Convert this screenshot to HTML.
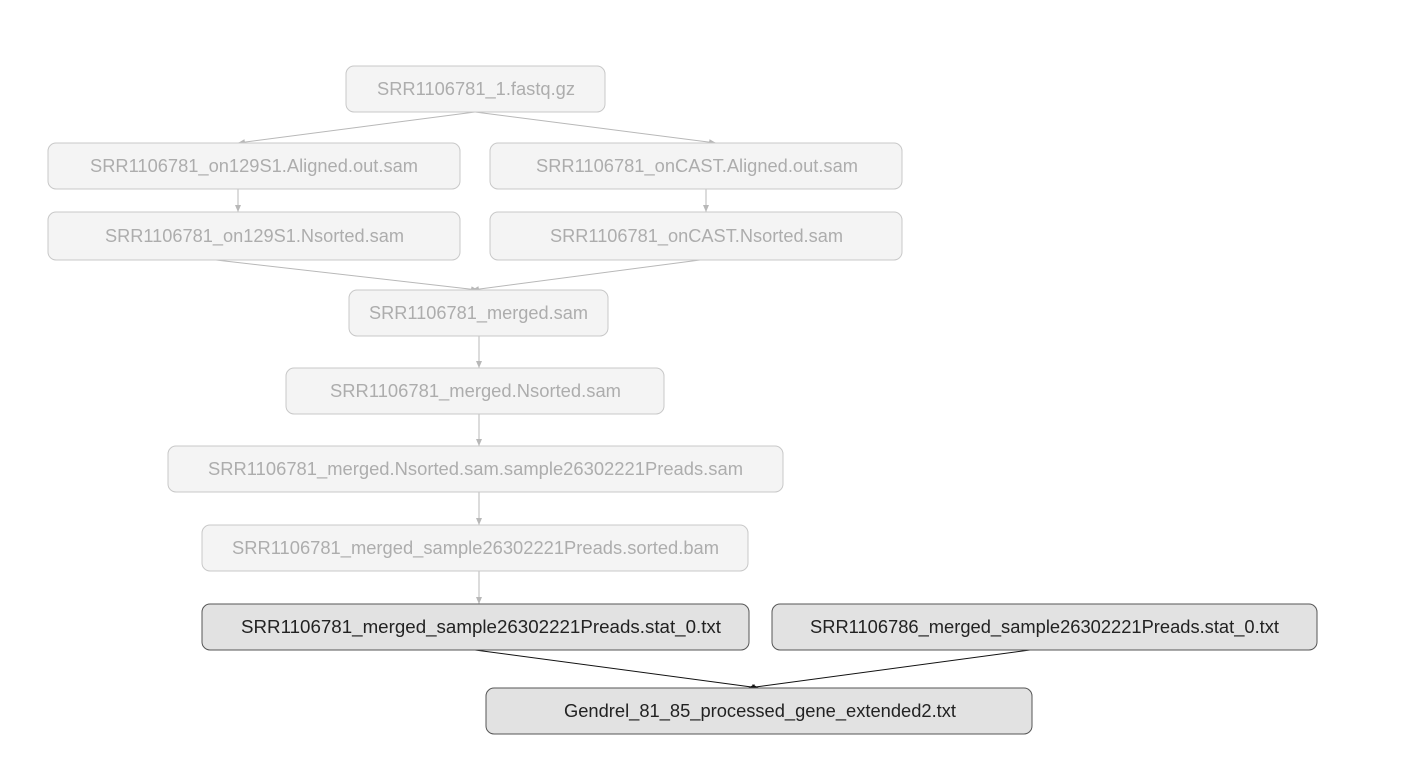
<!DOCTYPE html>
<html><head><meta charset="utf-8"><style>
html,body{margin:0;padding:0;background:#fff;}
svg{display:block;}
text{font-family:"Liberation Sans",Arial,sans-serif;font-size:18px;text-anchor:middle;dominant-baseline:central;}
.f rect{fill:#f4f4f4;stroke:#c8c8c8;stroke-width:1;}
.f text{fill:#adadad;}
.d rect{fill:#e2e2e2;stroke:#555;stroke-width:1;}
.d text{fill:#222;}
.lf{stroke:#b8b8b8;stroke-width:1;fill:none;}
.ld{stroke:#111;stroke-width:1;fill:none;}
</style></head><body>
<svg width="1424" height="768" viewBox="0 0 1424 768" xmlns="http://www.w3.org/2000/svg">
<defs>
<marker id="af" markerWidth="8" markerHeight="6" refX="7" refY="3" orient="auto" markerUnits="userSpaceOnUse"><path d="M0,0 L7,3 L0,6 z" fill="#b8b8b8"/></marker>
<marker id="ad" markerWidth="8" markerHeight="6" refX="7" refY="3" orient="auto" markerUnits="userSpaceOnUse"><path d="M0,0 L7,3 L0,6 z" fill="#111"/></marker>
</defs>
<line class="lf" x1="475" y1="112" x2="238" y2="143" marker-end="url(#af)"/>
<line class="lf" x1="475" y1="112" x2="716" y2="143" marker-end="url(#af)"/>
<line class="lf" x1="238" y1="189" x2="238" y2="212" marker-end="url(#af)"/>
<line class="lf" x1="706" y1="189" x2="706" y2="212" marker-end="url(#af)"/>
<line class="lf" x1="216" y1="260" x2="478" y2="290" marker-end="url(#af)"/>
<line class="lf" x1="700" y1="260" x2="472" y2="290" marker-end="url(#af)"/>
<line class="lf" x1="479" y1="336" x2="479" y2="368" marker-end="url(#af)"/>
<line class="lf" x1="479" y1="414" x2="479" y2="446" marker-end="url(#af)"/>
<line class="lf" x1="479" y1="492" x2="479" y2="525" marker-end="url(#af)"/>
<line class="lf" x1="479" y1="571" x2="479" y2="604" marker-end="url(#af)"/>
<line class="ld" x1="475" y1="650" x2="759" y2="688" marker-end="url(#ad)"/>
<line class="ld" x1="1030" y1="650" x2="748" y2="688" marker-end="url(#ad)"/>
<g class="f">
<rect x="346" y="66" width="259" height="46" rx="8"/><text x="476" y="89" textLength="198" lengthAdjust="spacingAndGlyphs">SRR1106781_1.fastq.gz</text>
<rect x="48" y="143" width="412" height="46" rx="8"/><text x="254" y="166" textLength="328" lengthAdjust="spacingAndGlyphs">SRR1106781_on129S1.Aligned.out.sam</text>
<rect x="490" y="143" width="412" height="46" rx="8"/><text x="697" y="166" textLength="322" lengthAdjust="spacingAndGlyphs">SRR1106781_onCAST.Aligned.out.sam</text>
<rect x="48" y="212" width="412" height="48" rx="8"/><text x="254.5" y="236" textLength="299" lengthAdjust="spacingAndGlyphs">SRR1106781_on129S1.Nsorted.sam</text>
<rect x="490" y="212" width="412" height="48" rx="8"/><text x="696.5" y="236" textLength="293" lengthAdjust="spacingAndGlyphs">SRR1106781_onCAST.Nsorted.sam</text>
<rect x="349" y="290" width="259" height="46" rx="8"/><text x="478.5" y="313" textLength="219" lengthAdjust="spacingAndGlyphs">SRR1106781_merged.sam</text>
<rect x="286" y="368" width="378" height="46" rx="8"/><text x="475.5" y="391" textLength="291" lengthAdjust="spacingAndGlyphs">SRR1106781_merged.Nsorted.sam</text>
<rect x="168" y="446" width="615" height="46" rx="8"/><text x="475.5" y="469" textLength="535" lengthAdjust="spacingAndGlyphs">SRR1106781_merged.Nsorted.sam.sample26302221Preads.sam</text>
<rect x="202" y="525" width="546" height="46" rx="8"/><text x="475.5" y="548" textLength="487" lengthAdjust="spacingAndGlyphs">SRR1106781_merged_sample26302221Preads.sorted.bam</text>
</g>
<g class="d">
<rect x="202" y="604" width="547" height="46" rx="8"/><text x="481" y="627" textLength="480" lengthAdjust="spacingAndGlyphs">SRR1106781_merged_sample26302221Preads.stat_0.txt</text>
<rect x="772" y="604" width="545" height="46" rx="8"/><text x="1044.5" y="627" textLength="469" lengthAdjust="spacingAndGlyphs">SRR1106786_merged_sample26302221Preads.stat_0.txt</text>
<rect x="486" y="688" width="546" height="46" rx="8"/><text x="760" y="711" textLength="392" lengthAdjust="spacingAndGlyphs">Gendrel_81_85_processed_gene_extended2.txt</text>
</g>
</svg>
</body></html>
